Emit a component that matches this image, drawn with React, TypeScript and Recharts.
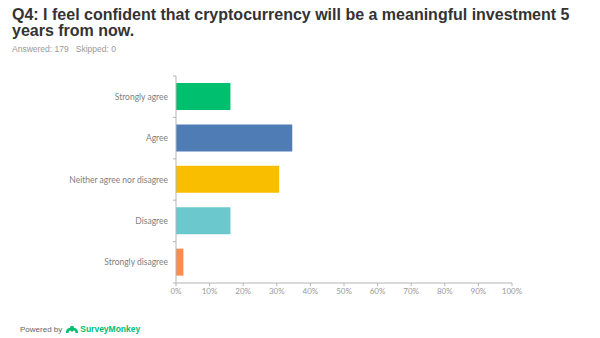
import React from 'react';
import { BarChart, Bar, XAxis, YAxis, Cell } from 'recharts';

const categories = ['Strongly agree', 'Agree', 'Neither agree nor disagree', 'Disagree', 'Strongly disagree'];
const percents = [16.2, 34.6, 30.7, 16.2, 2.2];
const colors = ['#00BF6F', '#507CB6', '#F9BE00', '#6BC8CD', '#FF8B4F'];
const xTicks = [0, 10, 20, 30, 40, 50, 60, 70, 80, 90, 100];

const data = categories.map((label, i) => ({ label, value: percents[i] }));

const W = 600;
const H = 338;
const M = { top: 76, right: 88, bottom: 35, left: 0 };
const X_AXIS_H = 20;
const Y_AXIS_W = 176;
const HALF_BAND = (H - M.top - M.bottom - X_AXIS_H) / categories.length / 2;

const YTick = (props: any) => {
  const { x, y, payload, index } = props;
  return (
    <g>
      <line x1={x - 3} x2={x} y1={y - HALF_BAND} y2={y - HALF_BAND} stroke="#b5b5b5" />
      {index === categories.length - 1 ? (
        <line x1={x - 3} x2={x} y1={y + HALF_BAND} y2={y + HALF_BAND} stroke="#b5b5b5" />
      ) : null}
      <text x={x - 8} y={y} dy={3} textAnchor="end" fill="#808080" fontSize={8.5} fontFamily="Lato, 'Open Sans', sans-serif">
        {payload.value}
      </text>
    </g>
  );
};

export default function App() {
  return (
    <div style={{ position: 'absolute', left: 0, top: 0, width: W, height: H, background: '#fff', fontFamily: "'Liberation Sans', Arial, sans-serif" }}>
      <div style={{ position: 'absolute', left: 12, top: 6.5, width: 560, fontFamily: "'Liberation Sans Narrow', 'Liberation Sans', Arial, sans-serif", fontWeight: 'bold', fontSize: 16, lineHeight: '16.5px', color: '#333' }}>
        Q4: I feel confident that cryptocurrency will be a meaningful investment 5 years from now.
      </div>
      <div style={{ position: 'absolute', left: 12, top: 44, fontSize: 8.5, color: '#999', fontFamily: "'Liberation Sans', Arial, sans-serif" }}>
        Answered: 179&nbsp;&nbsp;&nbsp;Skipped: 0
      </div>
      <div style={{ position: 'absolute', left: 0, top: 0 }}>
        <BarChart width={W} height={H} data={data} layout="vertical" margin={M} barCategoryGap="17%">
          <XAxis
            type="number"
            domain={[0, 100]}
            ticks={xTicks}
            tickFormatter={(v: number) => `${v}%`}
            height={X_AXIS_H}
            stroke="#b5b5b5"
            tickSize={3}
            tick={{ fill: '#999', fontSize: 8, fontFamily: "Lato, 'Open Sans', sans-serif" }}
            interval={0}
          />
          <YAxis
            type="category"
            dataKey="label"
            width={Y_AXIS_W}
            stroke="#b5b5b5"
            tickLine={false}
            tickSize={0}
            tickMargin={0}
            tick={<YTick />}
            interval={0}
          />
          <Bar dataKey="value" isAnimationActive={false}>
            {data.map((d, i) => (
              <Cell key={d.label} fill={colors[i]} />
            ))}
          </Bar>
        </BarChart>
      </div>
      <div style={{ position: 'absolute', left: 20, top: 324, height: 10, display: 'flex', alignItems: 'center', fontSize: 8, color: '#666' }}>
        <span>Powered by</span>
        <svg width="14" height="10" viewBox="0 0 14 10" style={{ marginLeft: 3, marginRight: 1 }}>
          <path d="M1 9 C1 5 3 4 5 4 C5 1 9 1 9 4 C11 4 13 5 13 9 L10.5 9 C10.5 7 9.5 6.5 8.5 6.5 C8.5 8 5.5 8 5.5 6.5 C4.5 6.5 3.5 7 3.5 9 Z" fill="#00BF6F" />
        </svg>
        <span style={{ color: '#00BF6F', fontWeight: 'bold', fontSize: 8.5, fontFamily: "'Liberation Sans Narrow', 'Liberation Sans', sans-serif" }}>SurveyMonkey</span>
      </div>
    </div>
  );
}
